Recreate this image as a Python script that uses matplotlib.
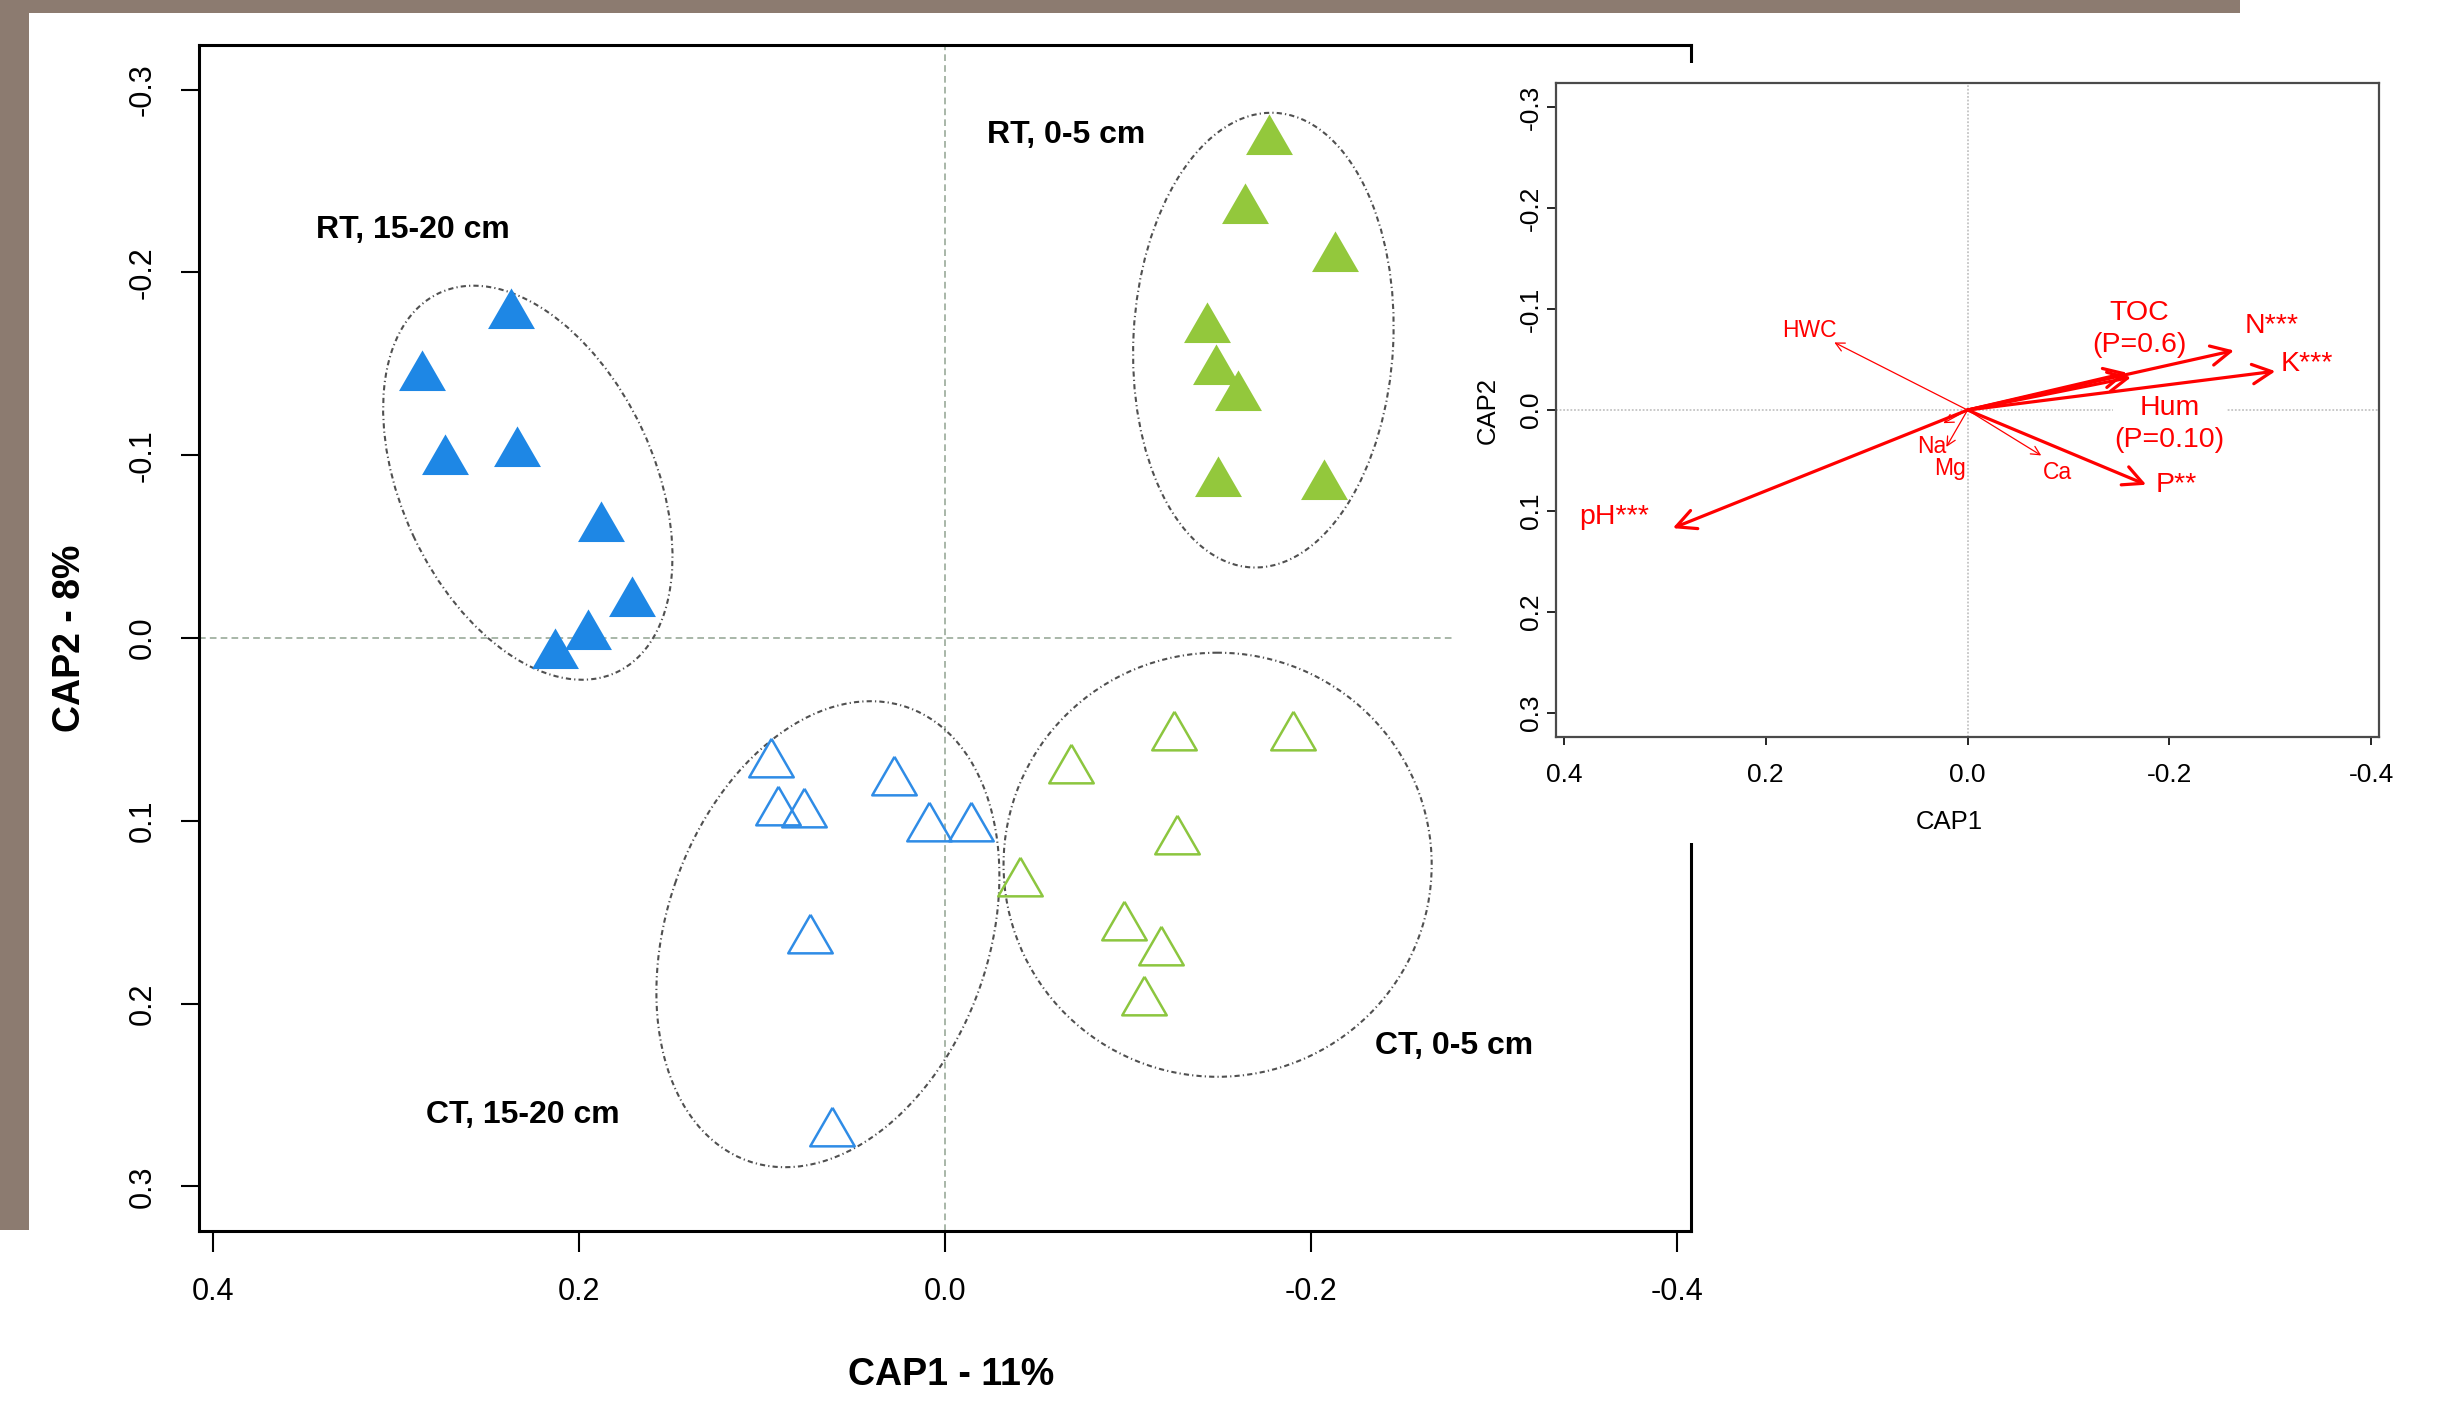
import matplotlib
matplotlib.use("Agg")
import matplotlib.pyplot as plt
from matplotlib.patches import Ellipse, Rectangle

plt.rcParams['font.family'] = ['Liberation Sans', 'DejaVu Sans']

# CAP site scores, four groups (tillage x depth)
rt_deep_x = [0.237, 0.286, 0.273, 0.234, 0.188, 0.171, 0.195, 0.213]
rt_deep_y = [-0.177, -0.143, -0.097, -0.101, -0.060, -0.019, -0.001, 0.009]
rt_top_x = [-0.177, -0.164, -0.213, -0.143, -0.148, -0.160, -0.149, -0.207]
rt_top_y = [-0.272, -0.234, -0.208, -0.169, -0.146, -0.132, -0.085, -0.083]
ct_deep_x = [0.095, 0.028, 0.091, 0.077, 0.009, -0.014, 0.074, 0.062]
ct_deep_y = [0.069, 0.079, 0.095, 0.096, 0.104, 0.104, 0.165, 0.271]
ct_top_x = [-0.125, -0.190, -0.069, -0.127, -0.041, -0.098, -0.118, -0.109]
ct_top_y = [0.054, 0.054, 0.072, 0.111, 0.134, 0.158, 0.172, 0.199]

group_labels = ['RT, 15-20 cm', 'RT, 0-5 cm', 'CT, 15-20 cm', 'CT, 0-5 cm']
label_x = [0.291, -0.066, 0.231, -0.278]
label_y = [-0.223, -0.275, 0.261, 0.223]

# group ellipses: centre, width, height, angle
ell_x = [0.228, -0.174, 0.064, -0.149]
ell_y = [-0.085, -0.163, 0.162, 0.124]
ell_w = [0.229, 0.249, 0.263, 0.234]
ell_h = [0.138, 0.142, 0.176, 0.232]
ell_a = [115, 87, 70.7, 0]

# environmental vectors (inset)
env_names = ['N***', 'K***', 'TOC', 'Hum', 'P**', 'pH***', 'HWC', 'Ca', 'Na', 'Mg']
env_x = [-0.264, -0.305, -0.158, -0.162, -0.177, 0.292, 0.132, -0.073, 0.024, 0.021]
env_y = [-0.059, -0.0385, -0.037, -0.0325, 0.074, 0.117, -0.067, 0.045, 0.013, 0.0365]
env_major = [True, True, True, True, True, True, False, False, False, False]
env_text = ['N***', 'K***', 'TOC\n(P=0.6)', 'Hum\n(P=0.10)', 'P**', 'pH***', 'HWC', 'Ca', 'Na', 'Mg']
text_x = [-0.301, -0.336, -0.170, -0.200, -0.207, 0.350, 0.157, -0.089, 0.0355, 0.0175]
text_y = [-0.083, -0.046, -0.0805, 0.0135, 0.0744, 0.106, -0.079, 0.062, 0.036, 0.058]

ticks_x = [0.4, 0.2, 0.0, -0.2, -0.4]
ticks_y = [-0.3, -0.2, -0.1, 0.0, 0.1, 0.2, 0.3]

blue = '#1e87e5'
green = '#93c83c'
tri = [(0, 0.5774), (-0.5, -0.2887), (0.5, -0.2887), (0, 0.5774)]

fig = plt.figure(figsize=(24.39, 14.05), dpi=100)

# brown frame of the slide
brown = '#8c7b70'
fig.add_artist(Rectangle((0, 1 - 13 / 1405), 2240 / 2439, 13 / 1405, transform=fig.transFigure,
                         facecolor=brown, edgecolor='none'))
fig.add_artist(Rectangle((0, 1 - 1230 / 1405), 29 / 2439, 1230 / 1405, transform=fig.transFigure,
                         facecolor=brown, edgecolor='none'))

# main CAP plot
ax = fig.add_axes([0.0816, 0.1238, 0.6117, 0.8441])
ax.set_zorder(0)
ax.axhline(0, color='#9aaa9a', lw=1.2, ls=(0, (4, 2.5)), zorder=1)
ax.axvline(0, color='#9aaa9a', lw=1.2, ls=(0, (4, 2.5)), zorder=1)

for i in range(4):
    ax.add_patch(Ellipse((ell_x[i], ell_y[i]), ell_w[i], ell_h[i], angle=ell_a[i],
                         fill=False, edgecolor='#505050', lw=1.5, ls=(0, (2.5, 1.5, 0.6, 1.5)), zorder=2))

ax.plot(rt_deep_x, rt_deep_y, ls='none', marker=tri, ms=39, mfc=blue, mec=blue, mew=0, zorder=3)
ax.plot(rt_top_x, rt_top_y, ls='none', marker=tri, ms=39, mfc=green, mec=green, mew=0, zorder=3)
ax.plot(ct_deep_x, ct_deep_y, ls='none', marker=tri, ms=37, mfc='none', mec='#2f8ce6', mew=1.8, zorder=3)
ax.plot(ct_top_x, ct_top_y, ls='none', marker=tri, ms=37, mfc='none', mec='#8cc63f', mew=1.8, zorder=3)

for i in range(4):
    ax.text(label_x[i], label_y[i], group_labels[i], fontsize=23, fontweight='bold',
            ha='center', va='center')

ax.set_xlim(0.4077, -0.4077)
ax.set_ylim(0.3244, -0.3244)
ax.set_xticks(ticks_x)
ax.set_xticklabels(['%.1f' % v if v >= 0 else '-%.1f' % -v for v in ticks_x], fontsize=22)
ax.set_yticks(ticks_y)
ax.set_yticklabels(['%.1f' % v if v >= 0 else '-%.1f' % -v for v in ticks_y], fontsize=22,
                   rotation=90, va='center')
ax.tick_params(axis='x', length=15, width=1.5, pad=18)
ax.tick_params(axis='y', length=13, width=1.5, pad=17)
for s in ax.spines.values():
    s.set_linewidth(2.2)
ax.set_xlabel('CAP1 - 11%', fontsize=27, fontweight='bold', va='center')
ax.xaxis.set_label_coords(0.504, -0.121)
ax.set_ylabel('CAP2 - 8%', fontsize=27, fontweight='bold', va='center')
ax.yaxis.set_label_coords(-0.0865, 0.5)

# white panel behind the inset
fig.add_artist(Rectangle((1455 / 2439, 1 - 843 / 1405), (2439 - 1455) / 2439, 780 / 1405,
                         transform=fig.transFigure, facecolor='white', edgecolor='none', zorder=1))

# inset with environmental vectors
ins = fig.add_axes([0.638, 0.4754, 0.3374, 0.4655])
ins.set_zorder(2)
ins.axhline(0, color='#c4c4c4', lw=1.3, ls=(0, (1, 1)), zorder=1)
ins.axvline(0, color='#c4c4c4', lw=1.3, ls=(0, (1, 1)), zorder=1)

for i in range(len(env_names)):
    if env_major[i]:
        lw, ms = 2.3, 20
    else:
        lw, ms = 0.9, 9
    ins.annotate('', xy=(env_x[i], env_y[i]), xytext=(0, 0), zorder=4,
                 arrowprops=dict(arrowstyle='->,head_length=0.7,head_width=0.35', color='red',
                                 lw=lw, shrinkA=0, shrinkB=0, mutation_scale=ms))
    fs = 20.5 if env_major[i] else 16.5
    t = ins.text(text_x[i], text_y[i], env_text[i], color='red', fontsize=fs,
                 ha='center', va='center', linespacing=1.3, zorder=2)
    if env_names[i] == 'Hum':
        t.set_bbox(dict(facecolor='white', edgecolor='none', pad=1))

ins.set_xlim(0.4076, -0.4076)
ins.set_ylim(0.324, -0.324)
ins.set_xticks(ticks_x)
ins.set_xticklabels(['%.1f' % v if v >= 0 else '-%.1f' % -v for v in ticks_x], fontsize=19)
ins.set_yticks(ticks_y)
ins.set_yticklabels(['%.1f' % v if v >= 0 else '-%.1f' % -v for v in ticks_y], fontsize=19,
                    rotation=90, va='center')
ins.tick_params(axis='x', length=5.5, width=1.2, pad=13)
ins.tick_params(axis='y', length=6.5, width=1.2, pad=3)
for s in ins.spines.values():
    s.set_linewidth(1.6)
    s.set_color('#4a4a4a')
ins.set_xlabel('CAP1', fontsize=18.5, va='center')
ins.xaxis.set_label_coords(0.4775, -0.1305)
ins.set_ylabel('CAP2', fontsize=18.5, va='center')
ins.yaxis.set_label_coords(-0.0831, 0.4988)

fig.savefig('out.png', dpi=100)
